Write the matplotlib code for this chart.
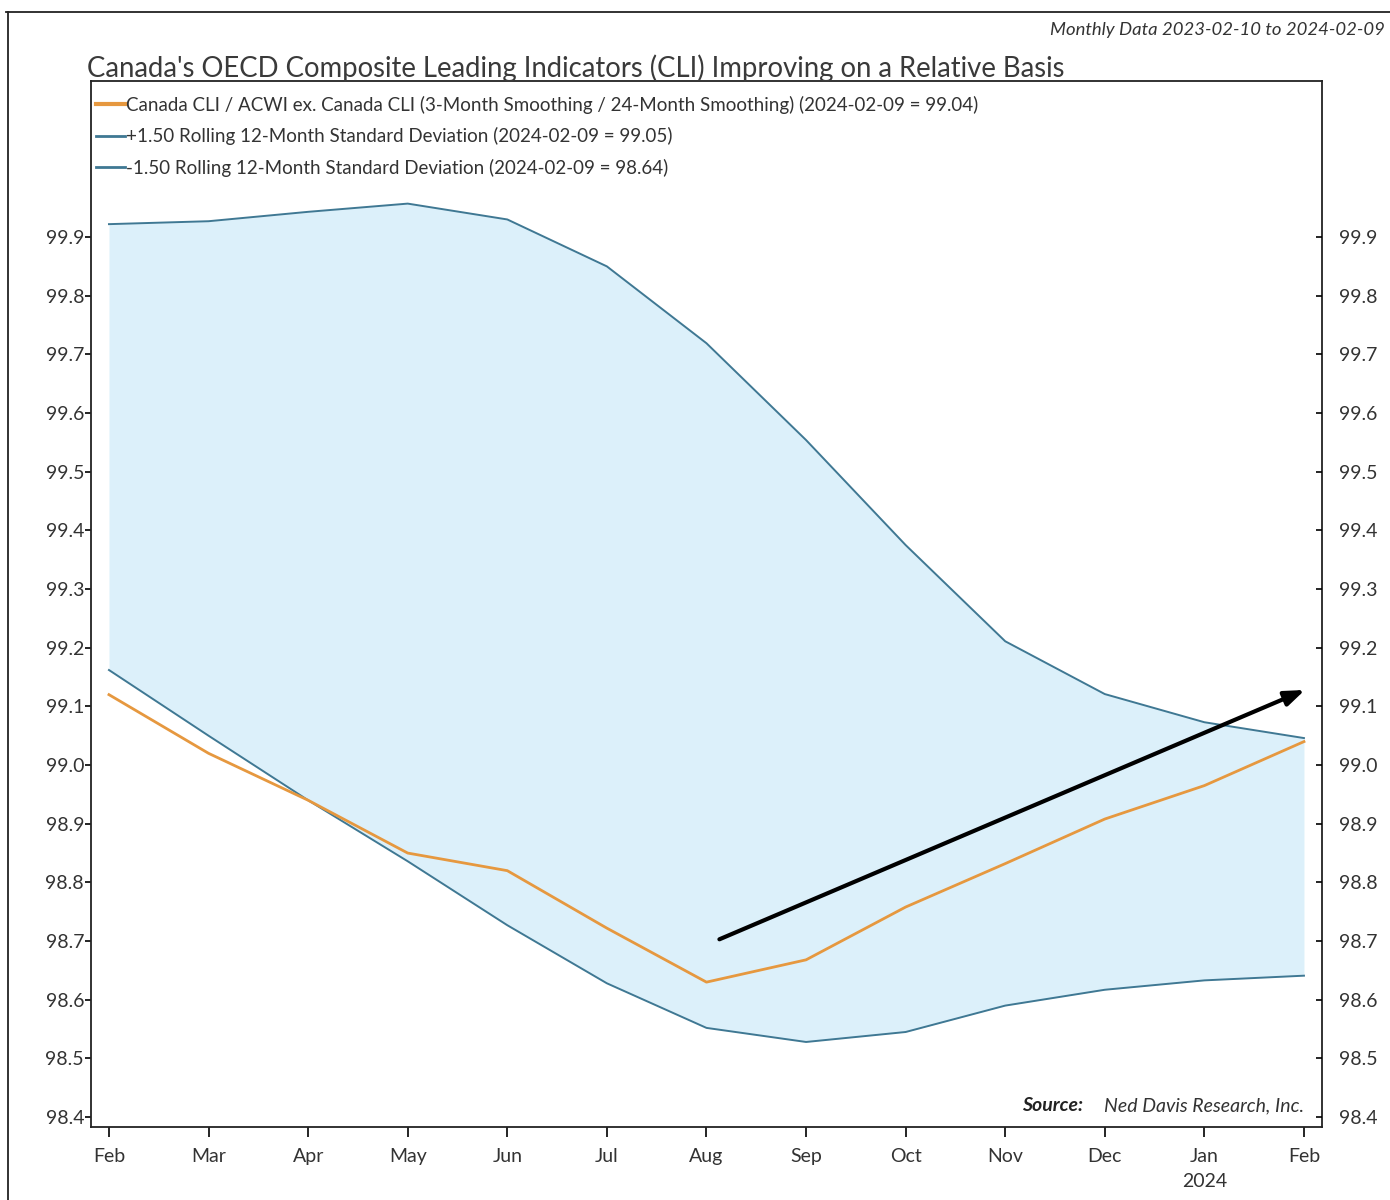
import numpy as np
import matplotlib
matplotlib.use("Agg")
import matplotlib.pyplot as plt
from matplotlib.lines import Line2D

plt.rcParams['font.family'] = ['Lato', 'DejaVu Sans']

# months Feb 2023 .. Feb 2024
month_labels = ['Feb', 'Mar', 'Apr', 'May', 'Jun', 'Jul', 'Aug',
                'Sep', 'Oct', 'Nov', 'Dec', 'Jan', 'Feb']
months = np.arange(len(month_labels))

upper_band = [99.922, 99.927, 99.943, 99.957, 99.930, 99.850, 99.719,
              99.554, 99.375, 99.211, 99.121, 99.073, 99.046]
lower_band = [99.162, 99.050, 98.940, 98.836, 98.727, 98.628, 98.552,
              98.528, 98.545, 98.590, 98.617, 98.633, 98.641]
canada_cli = [99.120, 99.020, 98.940, 98.850, 98.820, 98.722, 98.630,
              98.668, 98.758, 98.832, 98.908, 98.965, 99.040]

arrow_start = (6.13, 98.703)
arrow_end = (12.01, 99.128)

y_ticks = [98.4, 98.5, 98.6, 98.7, 98.8, 98.9, 99.0, 99.1, 99.2,
           99.3, 99.4, 99.5, 99.6, 99.7, 99.8, 99.9]

legend_labels = [
    'Canada CLI / ACWI ex. Canada CLI (3-Month Smoothing / 24-Month Smoothing) (2024-02-09 = 99.04)',
    '+1.50 Rolling 12-Month Standard Deviation (2024-02-09 = 99.05)',
    '-1.50 Rolling 12-Month Standard Deviation (2024-02-09 = 98.64)',
]

orange = '#e6983f'
band_col = '#3f7893'
fill_col = '#dcf0fa'
txt = '#333333'

fig = plt.figure(figsize=(13.9, 12), dpi=100)
ax = fig.add_axes([0.0655, 0.0608, 0.8855, 0.8717])

ax.fill_between(months, lower_band, upper_band, color=fill_col, lw=0)
ax.plot(months, upper_band, color=band_col, lw=1.4)
ax.plot(months, lower_band, color=band_col, lw=1.4)
ax.plot(months, canada_cli, color=orange, lw=2)

ax.annotate('', xy=arrow_end, xytext=arrow_start,
            arrowprops=dict(arrowstyle='-|>,head_length=1.2,head_width=0.45',
                            color='black', lw=3, shrinkA=0, shrinkB=0))

ax.set_xlim(-0.18, 12.18)
ax.set_ylim(98.383, 100.166)

ax.set_xticks(months)
xl = list(month_labels)
xl[11] = 'Jan\n2024'
ax.set_xticklabels(xl, fontsize=14, color=txt, va='top', linespacing=1.6)
ax.set_yticks(y_ticks)
ax.set_yticklabels(['%.1f' % v for v in y_ticks], fontsize=14, color=txt)
ax.tick_params(axis='y', left=True, right=False, labelleft=True,
               length=4, width=1.2, direction='out', pad=1)
ax.tick_params(axis='x', length=7, width=1.2, direction='out', pad=8)
for s in ax.spines.values():
    s.set_linewidth(1.3)
    s.set_color('#222222')

# right-hand scale, ticks pointing inward
ax2 = ax.twinx()
ax2.set_ylim(ax.get_ylim())
ax2.set_yticks(y_ticks)
ax2.set_yticklabels(['%.1f' % v for v in y_ticks], fontsize=14, color=txt)
ax2.tick_params(axis='y', length=4, width=1.2, direction='in', pad=12)
for s in ax2.spines.values():
    s.set_visible(False)

handles = [Line2D([], [], color=orange, lw=3),
           Line2D([], [], color=band_col, lw=2),
           Line2D([], [], color=band_col, lw=2)]
leg = ax.legend(handles, legend_labels, loc='upper left', frameon=False,
                bbox_to_anchor=(-0.004, 0.996),
                fontsize=13.5, handlelength=1.5, handletextpad=0.1,
                borderaxespad=0.0, borderpad=0.55, labelspacing=0.72)
for t in leg.get_texts():
    t.set_color(txt)

fig.text(0.0625, 0.943, "Canada's OECD Composite Leading Indicators (CLI) Improving on a Relative Basis",
         fontsize=19.8, color='#3a3a3a', ha='left', va='center')
fig.text(0.9965, 0.975, 'Monthly Data 2023-02-10 to 2024-02-09',
         fontsize=13.3, style='italic', color=txt, ha='right', va='center')

ax.text(0.806, 0.012, 'Source:', transform=ax.transAxes, fontsize=14,
        style='italic', weight='bold', color='#222222', ha='right', va='bottom')
ax.text(0.9855, 0.012, 'Ned Davis Research, Inc.', transform=ax.transAxes,
        fontsize=14, style='italic', color=txt, ha='right', va='bottom')

# outer frame lines
fig.add_artist(Line2D([0.004, 1.0], [0.99, 0.99], color='#222222', lw=1.3))
fig.add_artist(Line2D([0.0058, 0.0058], [0.0, 0.99], color='#222222', lw=1.3))

fig.savefig('out.png', dpi=100)
